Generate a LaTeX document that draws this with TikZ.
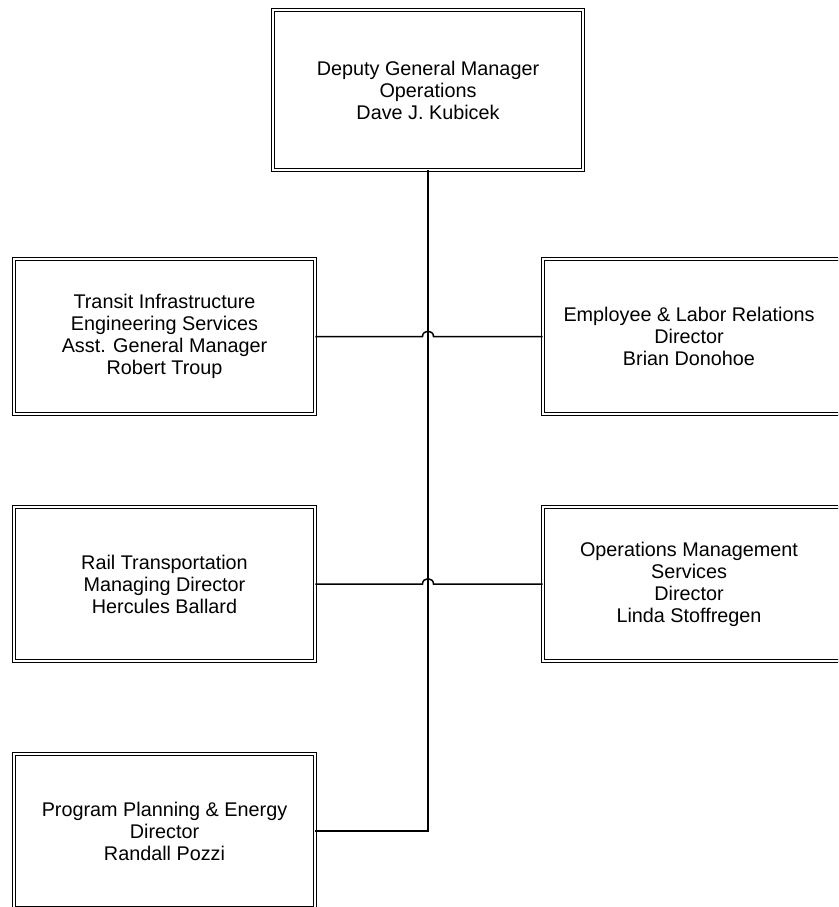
\documentclass[tikz,border=0pt]{standalone}
\usepackage{fontspec}
\setmainfont{Liberation Sans}
\begin{document}
\begin{tikzpicture}[x=1pt,y=-1pt,
  box/.style={draw, line width=1.2pt, double, double distance=2pt, inner sep=0pt,
    minimum width=300.6pt, align=center, font=\fontsize{19.8}{22}\selectfont},
  txt/.style={inner sep=0pt, align=center, font=\fontsize{19.8}{22}\selectfont},
  conn/.style={line width=1.5pt}]
\clip (0,0) rectangle (838,907);
\fill[white] (0,0) rectangle (838,907);
% top
\node[box, minimum width=309.6pt, minimum height=159.6pt] (top) at (428,90)
  {Deputy General Manager\\Operations\\Dave J. Kubicek};
% left column
\node[box, minimum height=154.6pt] (l1) at (164.5,336.5)
  {Transit Infrastructure\\Engineering Services\\Asst. General Manager\\Robert Troup};
\node[box, minimum height=153.6pt] (l2) at (164.5,584)
  {Rail Transportation\\Managing Director\\Hercules Ballard};
\node[box, minimum height=153.6pt] (l3) at (164.5,831)
  {Program Planning \& Energy\\Director\\Randall Pozzi};
% right column
\node[box, minimum height=154.6pt] (r1) at (693.5,336.5) {};
\node[txt] (r1t) at (689,336.5) {Employee \& Labor Relations\\Director\\Brian Donohoe};
\node[box, minimum height=153.6pt] (r2) at (693.5,584) {};
\node[txt] (r2t) at (689,584) {Operations Management\\Services\\Director\\Linda Stoffregen};
% connectors
\coordinate (bend) at (428,831);
\draw[conn] (top.south) -- (bend) -- (l3.east);
\coordinate (h1a) at (422.5,336.5);
\coordinate (h1b) at (433.5,336.5);
\coordinate (h2a) at (422.5,584);
\coordinate (h2b) at (433.5,584);
\draw[conn] (l1.east) -- (h1a) .. controls (422.5,329.5) and (433.5,329.5) .. (h1b) -- (r1.west);
\draw[conn] (l2.east) -- (h2a) .. controls (422.5,577) and (433.5,577) .. (h2b) -- (r2.west);
\end{tikzpicture}
\end{document}
